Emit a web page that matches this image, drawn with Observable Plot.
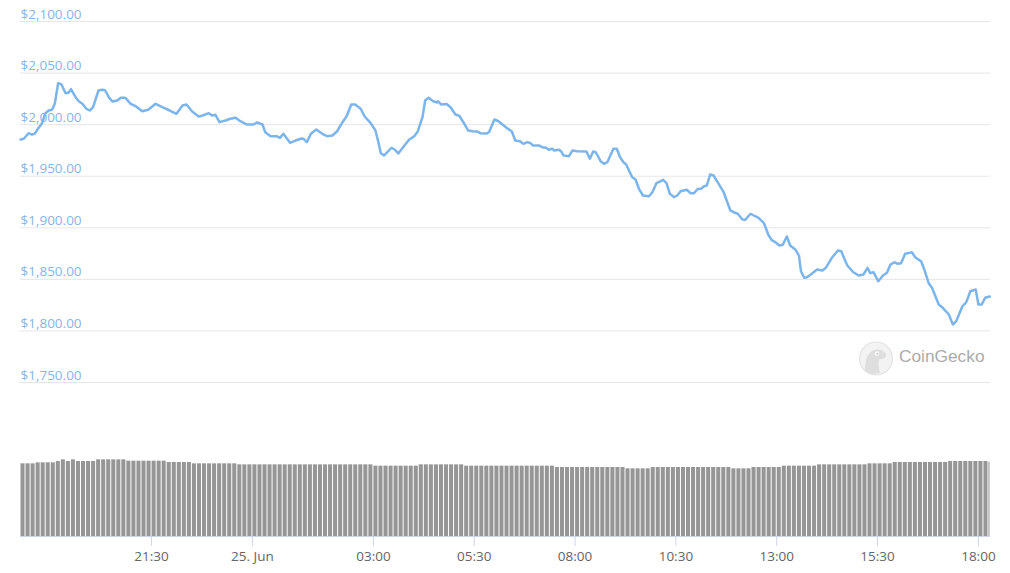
<!DOCTYPE html>
<html>
<head>
<meta charset="utf-8">
<script src="https://cdn.jsdelivr.net/npm/d3@7"></script>
<script src="https://cdn.jsdelivr.net/npm/@observablehq/plot@0.6"></script>
<style>
  html, body { margin: 0; padding: 0; background: #fff; }
  #wrap { position: relative; width: 1010px; height: 573px; overflow: hidden; font-family: "Open Sans", sans-serif; }
  #price, #volume, #wm { position: absolute; left: 0; }
  #price { top: 0; }
  #volume { top: 400px; }
  #wm { left: 850px; top: 335px; }
</style>
</head>
<body>
<div id="wrap">
  <div id="price"></div>
  <div id="volume"></div>
  <svg id="wm" width="150" height="50">
    <circle cx="26" cy="23.5" r="16.5" fill="#f3f3f3" stroke="#e3e3e3" stroke-width="1.2"></circle>
    <path d="M15 36 C15 28 16 20 22 16 C27 13 34 15 36 19 C37 22 34 24 30 24 C28 25 28 30 30 38 C25 40 19 39 15 36 Z" fill="#dedede"></path>
    <circle cx="27" cy="18.5" r="2.2" fill="#fafafa"></circle>
    <circle cx="27.4" cy="18.7" r="1" fill="#c8c8c8"></circle>
    <text x="49" y="27.3" font-family="Liberation Sans, Arial, sans-serif" font-size="17.3" fill="#ababab">CoinGecko</text>
  </svg>
</div>
<script>
// ---- data (ETH price, 24 Jun 18:15 UTC -> 25 Jun 18:18 UTC) ----
const START = "2021-06-24T18:15:00Z";
const DOMAIN_MINUTES = 1443;

// minutes after START
const priceMinutes = [
  0,5,12,17,21,26,32,37,42,47,51,56,61,67,72,75,82,87,92,98,
  103,108,116,122,126,132,137,144,149,156,164,172,181,190,201,211,222,232,241,247,
  255,265,271,280,285,290,296,305,312,320,327,
  337,346,352,360,364,372,381,386,391,401,409,418,421,426,432,440,449,456,464,471,
  479,485,492,498,506,512,521,528,533,536,541,552,557,562,570,578,586,591,598,602,
  607,614,620,621,626,634,640,647,653,659,666,
  673,679,684,693,697,705,711,717,724,731,736,743,748,754,759,762,771,776,782,786,
  791,794,801,804,808,816,821,828,842,847,852,856,863,868,873,882,887,892,897,901,
  910,915,920,926,935,940,946,951,956,961,966,
  972,977,982,991,997,1002,1007,1013,1016,1021,1026,1031,1037,1046,1056,1062,1067,1074,1078,1086,
  1093,1098,1106,1113,1118,1123,1129,1134,1140,1145,1153,1158,1161,1166,1170,1178,1185,1193,1198,1207,
  1216,1221,1225,1230,1239,1247,1254,1260,1264,1269,1276,1283,1289,1294,1300,1305,1310,1316,1323,1326,
  1331,1340,1345,1351,1356,1366,1372,1381,1387,1392,1401,1407,1413,1421,1425,1430,1435,1442
];

// USD
const priceValues = [
  1985.6,1986.3,1991.7,1990.4,1991.1,1996.0,2001.4,2011.1,2013.7,2014.4,2020.2,2040.2,2038.9,2030.5,2031.2,2034.4,2026.6,2022.4,2020.2,2015.4,
  2013.7,2016.9,2033.1,2033.8,2033.1,2026.0,2022.4,2023.4,2026.0,2026.0,2020.2,2017.6,2013.0,2014.4,2020.2,2016.9,2013.7,2010.5,2018.6,2019.5,
  2013.0,2007.9,2008.9,2011.1,2008.9,2009.5,2002.4,2004.0,2005.7,2006.6,2003.3,
  2000.1,2000.1,2002.1,2000.1,1992.7,1988.8,1988.8,1987.2,1991.1,1982.4,1984.6,1986.6,1986.3,1983.0,1991.1,1995.3,1991.1,1988.8,1989.5,1993.6,
  2002.4,2007.9,2019.5,2019.5,2015.4,2007.9,2001.4,1994.3,1981.4,1972.3,1970.1,1977.6,1975.7,1972.0,1978.8,1985.4,1989.0,1993.4,2007.2,2023.4,
  2026.0,2022.7,2021.5,2022.7,2019.5,2020.0,2016.6,2009.8,2008.4,2002.1,1994.3,
  1993.6,1993.4,1991.7,1991.4,1992.7,2005.0,2003.3,2000.1,1996.6,1993.4,1984.6,1983.9,1981.4,1983.0,1982.0,1979.8,1979.8,1978.1,1977.6,1975.6,
  1976.6,1974.9,1975.6,1974.3,1970.1,1969.4,1974.9,1974.3,1974.0,1966.9,1974.0,1973.0,1964.6,1962.0,1963.6,1976.6,1976.6,1968.4,1963.6,1961.4,
  1949.0,1946.8,1937.8,1931.3,1930.6,1934.5,1943.2,1944.7,1946.5,1943.2,1933.0,
  1929.7,1931.3,1935.5,1936.8,1933.5,1933.5,1937.4,1938.1,1940.0,1941.0,1951.7,1950.7,1944.2,1934.5,1916.8,1914.8,1913.6,1908.0,1907.7,1913.6,
  1911.2,1909.7,1904.4,1892.5,1887.7,1886.0,1882.8,1883.5,1891.6,1882.8,1878.7,1873.1,1857.9,1851.5,1852.1,1856.0,1859.6,1858.6,1861.2,1870.9,
  1878.0,1877.3,1870.9,1863.4,1856.9,1853.7,1854.7,1861.2,1856.0,1856.9,1848.2,1853.7,1856.4,1864.1,1866.6,1865.1,1865.7,1874.8,1875.7,1876.3,
  1871.5,1867.3,1858.6,1846.3,1841.8,1825.6,1822.4,1815.9,1806.2,1809.4,1823.7,1827.9,1838.5,1840.2,1825.6,1825.6,1832.1,1833.4
];

// 24h volume (billions USD), one bar every 7.5 minutes from START
const VOLUME_STEP_MINUTES = 7.5;
const volumeValues = [
  21.8,21.8,21.8,22.1,22.1,22.1,22.1,22.5,23.0,22.5,
  23.0,22.5,22.5,22.5,22.5,23.0,23.0,23.0,23.0,23.0,
  23.0,22.6,22.6,22.6,22.6,22.6,22.6,22.6,22.6,22.2,
  22.2,22.2,22.2,22.2,21.8,21.8,21.8,21.8,21.8,21.8,
  21.8,21.8,21.8,21.5,21.5,21.5,21.5,21.5,21.5,21.5,
  21.5,21.5,21.5,21.5,21.5,21.5,21.5,21.5,21.5,21.5,
  21.5,21.5,21.5,21.5,21.5,21.5,21.5,21.5,21.5,21.5,
  21.1,21.1,21.1,21.1,21.1,21.1,21.1,21.1,21.1,21.5,
  21.5,21.5,21.5,21.5,21.5,21.5,21.5,21.5,21.1,21.1,
  21.1,21.1,21.1,21.1,21.1,21.1,21.1,21.1,21.1,21.1,
  21.1,21.1,21.1,21.1,21.1,21.1,20.7,20.7,20.7,20.7,
  20.7,20.7,20.7,20.7,20.7,20.7,20.7,20.7,20.7,20.7,
  20.3,20.3,20.3,20.3,20.3,20.7,20.7,20.7,20.7,20.7,
  20.7,20.7,20.7,20.7,20.7,20.7,20.7,20.7,20.7,20.7,
  20.7,20.3,20.3,20.3,20.3,20.7,20.7,20.7,20.7,20.7,
  20.7,21.1,21.1,21.1,21.1,21.1,21.1,21.1,21.5,21.5,
  21.5,21.5,21.5,21.5,21.5,21.5,21.5,21.5,21.8,21.8,
  21.8,21.8,21.8,22.2,22.2,22.2,22.2,22.2,22.2,22.2,
  22.2,22.2,22.2,22.2,22.5,22.5,22.5,22.5,22.5,22.5,
  22.5,22.5,22.2
];

const priceTicks = [1750, 1800, 1850, 1900, 1950, 2000, 2050, 2100];
const timeTicks = [
  "2021-06-24T21:30:00Z", "2021-06-25T00:00:00Z", "2021-06-25T03:00:00Z",
  "2021-06-25T05:30:00Z", "2021-06-25T08:00:00Z", "2021-06-25T10:30:00Z",
  "2021-06-25T13:00:00Z", "2021-06-25T15:30:00Z", "2021-06-25T18:00:00Z"
];

// ---- build tables ----
const start = new Date(START);
const toDate = m => new Date(start.getTime() + m * 60000);
const xDomain = [start, toDate(DOMAIN_MINUTES)];
const priceData = priceMinutes.map((m, i) => ({date: toDate(m), price: priceValues[i]}));
const volumeData = volumeValues.map((v, i) => ({
  t1: toDate(i * VOLUME_STEP_MINUTES),
  t2: toDate(Math.min((i + 1) * VOLUME_STEP_MINUTES, DOMAIN_MINUTES)),
  v
}));
const tickDates = timeTicks.map(s => new Date(s));
const fmtPrice = d => "$" + d3.format(",.2f")(d);
const fmtTime = d => (d.getUTCHours() === 0 && d.getUTCMinutes() === 0)
  ? `${d.getUTCDate()}. ${d3.utcFormat("%b")(d)}`
  : d3.utcFormat("%H:%M")(d);

const common = {
  width: 1010,
  marginLeft: 20,
  marginRight: 20,
  style: {fontFamily: "'Open Sans', sans-serif", background: "transparent", overflow: "visible"}
};

const pricePlot = Plot.plot({
  ...common,
  height: 400,
  marginTop: 21,
  marginBottom: 18,
  x: {type: "utc", domain: xDomain, axis: null},
  y: {domain: [1750, 2100], axis: null},
  marks: [
    Plot.ruleY(priceTicks, {stroke: "#e6e6e6", strokeWidth: 1}),
    Plot.text(priceTicks, {
      y: d => d, text: fmtPrice, frameAnchor: "left", textAnchor: "start",
      lineAnchor: "bottom", dy: -3, fill: "#86b6ea", fontSize: 13.5
    }),
    Plot.line(priceData, {x: "date", y: "price", stroke: "#7cb5ec", strokeWidth: 2.5, strokeLinejoin: "round", strokeLinecap: "round"})
  ]
});
document.getElementById("price").appendChild(pricePlot);

const volumePlot = Plot.plot({
  ...common,
  height: 173,
  marginTop: 56,
  marginBottom: 37,
  x: {type: "utc", domain: xDomain},
  y: {domain: [0, 24], axis: null},
  marks: [
    Plot.rectY(volumeData, {x1: "t1", x2: "t2", y: "v", fill: "#969696", insetLeft: 0.5, insetRight: 0.5}),
    Plot.ruleY([0], {stroke: "#ccd6eb"}),
    Plot.axisX({
      ticks: tickDates, tickFormat: fmtTime, tickSize: 10, tickPadding: 5,
      stroke: "#ccd6eb", fill: "#666666", fontSize: 13.5
    })
  ]
});
document.getElementById("volume").appendChild(volumePlot);
</script>
</body>
</html>
